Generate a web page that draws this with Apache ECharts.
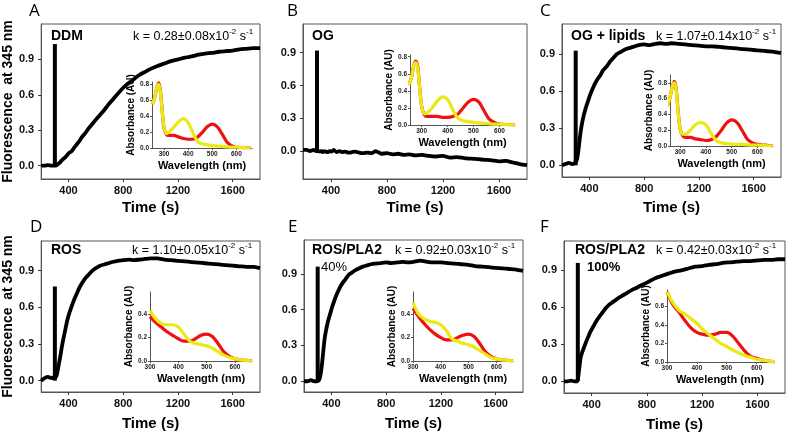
<!DOCTYPE html>
<html><head><meta charset="utf-8">
<script src="https://cdn.jsdelivr.net/npm/echarts@6/dist/echarts.min.js"></script>
<style>html,body{margin:0;padding:0;background:#fff}#c{width:800px;height:435px}</style>
</head><body><div id="c"></div><script>
// ---------- DATA ----------
const timeS = [200,225,250,275,295,310,320,330,340,350,360,375,390,405,420,440,460,480,500,525,550,575,600,630,660,690,720,760,800,840,880,920,960,1000,1050,1100,1150,1200,1250,1300,1350,1400,1450,1500,1550,1600,1650,1700,1750,1800];
const fluorDDM = [0.00,0.00,0.005,0.0,0.0,0.0,0.01,0.02,0.03,0.045,0.055,0.07,0.09,0.11,0.12,0.15,0.18,0.21,0.245,0.28,0.32,0.355,0.39,0.43,0.47,0.515,0.555,0.61,0.66,0.70,0.735,0.77,0.795,0.82,0.845,0.865,0.885,0.9,0.915,0.925,0.94,0.95,0.955,0.965,0.97,0.975,0.985,0.99,0.995,0.995];
const fluorOG = [0.01,0.01,0.0,0.01,0.0,0.0,-0.005,0.0,-0.01,0.0,-0.005,-0.01,0.0,-0.005,0.01,-0.01,0.0,-0.01,-0.005,-0.015,-0.01,-0.005,-0.015,-0.02,-0.015,-0.02,0.0,-0.025,-0.02,-0.03,-0.025,-0.035,-0.03,-0.04,-0.035,-0.045,-0.05,-0.045,-0.06,-0.055,-0.065,-0.07,-0.075,-0.08,-0.085,-0.095,-0.09,-0.105,-0.12,-0.13];
const fluorOGLipids = [0.0,0.01,0.02,0.01,0.02,0.05,0.12,0.22,0.3,0.36,0.41,0.47,0.52,0.57,0.61,0.66,0.7,0.73,0.77,0.8,0.84,0.87,0.9,0.92,0.94,0.95,0.96,0.975,0.98,0.975,0.985,0.99,0.985,0.99,0.985,0.98,0.975,0.97,0.965,0.965,0.96,0.955,0.95,0.945,0.94,0.935,0.93,0.925,0.92,0.91];
const fluorROS = [0.0,0.02,0.03,0.02,0.03,0.03,0.08,0.14,0.2,0.27,0.33,0.41,0.49,0.55,0.6,0.66,0.71,0.76,0.8,0.84,0.87,0.9,0.92,0.94,0.95,0.96,0.97,0.98,0.985,0.99,0.985,0.99,0.995,1.0,1.0,0.99,0.985,0.98,0.975,0.97,0.965,0.96,0.955,0.95,0.945,0.94,0.935,0.93,0.93,0.92];
const fluorPLA40 = [0.0,0.0,0.01,0.0,0.0,0.01,0.05,0.13,0.24,0.35,0.42,0.5,0.56,0.62,0.67,0.73,0.78,0.82,0.85,0.89,0.91,0.93,0.945,0.96,0.97,0.98,0.985,0.99,0.995,0.99,0.995,1.0,0.995,1.0,1.01,1.0,0.995,0.995,0.99,0.985,0.98,0.975,0.965,0.96,0.955,0.95,0.945,0.94,0.935,0.925];
const fluorPLA100 = [0.0,0.0,0.005,0.0,0.0,0.1,0.19,0.23,0.26,0.29,0.32,0.36,0.4,0.43,0.46,0.5,0.53,0.56,0.59,0.62,0.64,0.66,0.68,0.7,0.72,0.74,0.755,0.78,0.8,0.825,0.845,0.86,0.875,0.89,0.9,0.915,0.93,0.935,0.945,0.95,0.96,0.965,0.97,0.975,0.975,0.98,0.985,0.985,0.99,0.99];
const mixTime = 300;
const spikePeak = [1.03, 0.92, 0.93, 0.77, 0.96, 0.96];

const wlABC = [250,260,270,278,285,292,300,310,320,340,360,380,400,420,440,460,480,500,520,540,560,580,600,630,660];
const absRedA = [0.55,0.62,0.76,0.82,0.72,0.48,0.25,0.17,0.16,0.16,0.14,0.12,0.11,0.11,0.14,0.2,0.27,0.3,0.27,0.18,0.08,0.03,0.01,0.005,0.0];
const absYelA = [0.55,0.62,0.76,0.8,0.7,0.47,0.26,0.18,0.2,0.26,0.33,0.37,0.32,0.19,0.08,0.05,0.04,0.03,0.025,0.02,0.015,0.01,0.01,0.005,0.0];
const absRedB = [0.47,0.55,0.7,0.75,0.68,0.45,0.22,0.12,0.1,0.1,0.1,0.09,0.09,0.1,0.13,0.2,0.27,0.3,0.27,0.17,0.07,0.03,0.01,0.005,0.0];
const absYelB = [0.47,0.55,0.7,0.73,0.66,0.44,0.22,0.13,0.14,0.2,0.28,0.33,0.3,0.18,0.08,0.05,0.04,0.03,0.025,0.02,0.015,0.01,0.01,0.005,0.0];
const absRedC = [0.5,0.6,0.76,0.82,0.72,0.46,0.22,0.13,0.11,0.11,0.09,0.08,0.07,0.08,0.12,0.2,0.29,0.33,0.3,0.2,0.09,0.04,0.02,0.01,0.0];
const absYelC = [0.5,0.6,0.76,0.8,0.7,0.45,0.22,0.15,0.15,0.2,0.27,0.3,0.27,0.16,0.07,0.04,0.03,0.025,0.02,0.02,0.015,0.01,0.01,0.005,0.0];
const wlDEF = [300,320,340,360,380,400,420,440,460,480,500,520,540,560,580,600,620,640,660];
const absRedD = [0.38,0.33,0.29,0.25,0.22,0.19,0.17,0.17,0.19,0.22,0.23,0.21,0.15,0.08,0.04,0.02,0.01,0.005,0.0];
const absYelD = [0.43,0.36,0.32,0.31,0.31,0.29,0.23,0.17,0.15,0.14,0.13,0.11,0.08,0.05,0.03,0.02,0.01,0.005,0.0];
const absRedE = [0.45,0.38,0.32,0.27,0.23,0.2,0.18,0.18,0.2,0.22,0.23,0.21,0.15,0.08,0.04,0.02,0.01,0.005,0.0];
const absYelE = [0.5,0.4,0.36,0.34,0.33,0.31,0.26,0.19,0.17,0.15,0.14,0.12,0.09,0.06,0.03,0.02,0.01,0.005,0.0];
const absRedF = [0.76,0.62,0.54,0.45,0.37,0.32,0.3,0.29,0.3,0.32,0.32,0.28,0.2,0.12,0.06,0.04,0.02,0.01,0.0];
const absYelF = [0.76,0.64,0.56,0.52,0.47,0.42,0.35,0.3,0.25,0.2,0.17,0.13,0.1,0.07,0.05,0.03,0.02,0.01,0.005];

const timeTicks = [400,800,1200,1600];
const fluorTicks = [0,0.3,0.6,0.9];
const wlTicks = [300,400,500,600];
const absTicksABC = [0,0.2,0.4,0.6,0.8];
const absTicksDE = [0,0.2,0.4];
const absTicksF = [0,0.2,0.4,0.6];

const panelLetters = ['A','B','C','D','E','F'];
const conditions = ['DDM','OG','OG + lipids','ROS','ROS/PLA2','ROS/PLA2'];
const rateK = ['0.28±0.08','','1.07±0.14','1.10±0.05','0.92±0.03','0.42±0.03'];
const pla2Fraction = ['','','','','40%','100%'];

// ---------- LAYOUT ----------
const F = 'Liberation Sans, Arial, sans-serif';
const fluorSets = [fluorDDM, fluorOG, fluorOGLipids, fluorROS, fluorPLA40, fluorPLA100];
const redSets = [absRedA, absRedB, absRedC, absRedD, absRedE, absRedF];
const yelSets = [absYelA, absYelB, absYelC, absYelD, absYelE, absYelF];
const wlSets = [wlABC, wlABC, wlABC, wlDEF, wlDEF, wlDEF];
const absTickSets = [absTicksABC, absTicksABC, absTicksABC, absTicksDE, absTicksDE, absTicksF];

const mainL = [
  {left:41, top:24, width:219, height:155, ymin:-0.113, ymax:1.2, gap:21},
  {left:303, top:24, width:224, height:155, ymin:-0.256, ymax:1.163, gap:21},
  {left:562, top:24, width:219, height:153, ymin:-0.095, ymax:1.146, gap:23},
  {left:41, top:241, width:219, height:151, ymin:-0.093, ymax:1.142, gap:24},
  {left:304, top:240, width:219, height:152, ymin:-0.09, ymax:1.183, gap:24},
  {left:564, top:241, width:221, height:152, ymin:-0.095, ymax:1.138, gap:24}
];
const insetL = [
  {left:152, top:82, width:100, height:66, xmin:250, xmax:665, ymax:0.83, ygap:10},
  {left:410, top:55, width:105, height:70, xmin:255, xmax:660, ymax:0.82, ygap:10},
  {left:670, top:75, width:103, height:71, xmin:261, xmax:660, ymax:0.9, ygap:10},
  {left:150, top:292, width:102, height:69, xmin:300, xmax:660, ymax:0.59, ygap:10},
  {left:413, top:292, width:100, height:69, xmin:300, xmax:660, ymax:0.59, ygap:10},
  {left:667, top:290, width:106, height:72, xmin:300, xmax:655, ymax:0.78, ygap:10}
];
const letterPos = [[29,3],[287,3],[540,3],[30,219],[288,219],[540,219]];
const condPos = [[51,29],[312,29],[571,29],[51,243],[312,243],[575,243]];
const kPos = [[133,28],null,[656,28],[132,242],[395,242],[656,242]];
const fracPos = [null,null,null,null,[321,261],[587,261]];

const grid = [], xAxis = [], yAxis = [], series = [], title = [];
for (let i = 0; i < 6; i++) {
  const m = mainL[i];
  grid.push({left:m.left, top:m.top, width:m.width, height:m.height, show:true, borderColor:'#555', borderWidth:1, backgroundColor:'rgba(0,0,0,0)'});
  xAxis.push({type:'value', gridIndex:i, min:200, max:1800,
    axisLine:{show:true, onZero:false, lineStyle:{color:'#555', width:1}},
    axisTick:{show:true, customValues:timeTicks, length:3, lineStyle:{color:'#333'}},
    axisLabel:{customValues:timeTicks, fontSize:11, fontWeight:'bold', color:'#111', margin:6, fontFamily:F,
      formatter:v=>String(v)},
    splitLine:{show:false},
    name:'Time (s)', nameLocation:'middle', nameGap:m.gap,
    nameTextStyle:{fontSize:15, fontWeight:'bold', color:'#000', fontFamily:F}});
  const ya = {type:'value', gridIndex:i, min:m.ymin, max:m.ymax,
    axisLine:{show:true, onZero:false, lineStyle:{color:'#555', width:1}},
    axisTick:{show:true, customValues:fluorTicks, length:3, lineStyle:{color:'#333'}},
    axisLabel:{customValues:fluorTicks, fontSize:11, fontWeight:'bold', color:'#111', margin:7, fontFamily:F,
      formatter:v=>v.toFixed(1)},
    splitLine:{show:false}};
  if (i === 0 || i === 3) {
    ya.name = 'Fluorescence  at 345 nm'; ya.nameLocation = 'middle'; ya.nameGap = 22;
    ya.nameTextStyle = {fontSize:14, fontWeight:'bold', color:'#000', fontFamily:F};
  }
  yAxis.push(ya);
  series.push({type:'line', xAxisIndex:i, yAxisIndex:i, data:timeS.map((t,k)=>[t, fluorSets[i][k]]),
    showSymbol:false, smooth:0.2, lineStyle:{color:'#000', width:3.8}, z:3, silent:true});
  series.push({type:'line', xAxisIndex:i, yAxisIndex:i, data:[[mixTime,0],[mixTime,spikePeak[i]]],
    showSymbol:false, lineStyle:{color:'#000', width:4, cap:'butt'}, z:3, silent:true});
}
for (let i = 0; i < 6; i++) {
  const s = insetL[i], gi = 6 + i;
  grid.push({left:s.left, top:s.top, width:s.width, height:s.height, show:false});
  xAxis.push({type:'value', gridIndex:gi, min:s.xmin, max:s.xmax,
    axisLine:{show:true, onZero:false, lineStyle:{color:'#555', width:1}},
    axisTick:{show:true, customValues:wlTicks, length:2, lineStyle:{color:'#555'}},
    axisLabel:{customValues:wlTicks, fontSize:6.5, fontWeight:'bold', color:'#222', margin:3, fontFamily:F,
      formatter:v=>String(v)},
    splitLine:{show:false},
    name:'Wavelength (nm)', nameLocation:'middle', nameGap:12,
    nameTextStyle:{fontSize:11, fontWeight:'bold', color:'#000', fontFamily:F}});
  yAxis.push({type:'value', gridIndex:gi, min:0, max:s.ymax,
    axisLine:{show:true, onZero:false, lineStyle:{color:'#555', width:1}},
    axisTick:{show:true, customValues:absTickSets[i], length:2, lineStyle:{color:'#555'}},
    axisLabel:{customValues:absTickSets[i], fontSize:6.5, fontWeight:'bold', color:'#222', margin:3, fontFamily:F,
      formatter:v=>v.toFixed(1)},
    splitLine:{show:false},
    name:'Absorbance (AU)', nameLocation:'middle', nameGap:s.ygap,
    nameTextStyle:{fontSize:10, fontWeight:'bold', color:'#000', fontFamily:F}});
  series.push({type:'line', xAxisIndex:gi, yAxisIndex:gi, data:wlSets[i].map((w,k)=>[w, redSets[i][k]]),
    showSymbol:false, smooth:0.35, lineStyle:{color:'#ee1111', width:3.2}, z:5, silent:true});
  series.push({type:'line', xAxisIndex:gi, yAxisIndex:gi, data:wlSets[i].map((w,k)=>[w, yelSets[i][k]]),
    showSymbol:false, smooth:0.35, lineStyle:{color:'#eaea12', width:3.2}, z:6, silent:true});
}
for (let i = 0; i < 6; i++) {
  title.push({text:panelLetters[i], left:letterPos[i][0], top:letterPos[i][1], padding:0,
    textStyle:{fontSize:17, fontWeight:'normal', color:'#000', fontFamily:'Open Sans, sans-serif'}});
  title.push({text:conditions[i], left:condPos[i][0], top:condPos[i][1], padding:0,
    textStyle:{fontSize:14, fontWeight:'bold', color:'#000', fontFamily:F}});
  if (kPos[i]) {
    title.push({text:'{n|k = ' + rateK[i] + 'x10}{s|-2}{n| s}{s|-1}', left:kPos[i][0], top:kPos[i][1], padding:0,
      textStyle:{fontWeight:'normal', rich:{
        n:{fontSize:12.5, fontWeight:'normal', color:'#000', fontFamily:F, lineHeight:15, verticalAlign:'bottom'},
        s:{fontSize:8, fontWeight:'normal', color:'#000', fontFamily:F, lineHeight:8, verticalAlign:'top'}}}});
  }
  if (fracPos[i]) {
    title.push({text:pla2Fraction[i], left:fracPos[i][0], top:fracPos[i][1], padding:0,
      textStyle:{fontSize:13, fontWeight: i === 5 ? 'bold' : 'normal', color:'#000', fontFamily:F}});
  }
}
const chart = echarts.init(document.getElementById('c'), null, {renderer:'canvas'});
chart.setOption({animation:false, backgroundColor:'#fff', title, grid, xAxis, yAxis, series});
</script></body></html>
